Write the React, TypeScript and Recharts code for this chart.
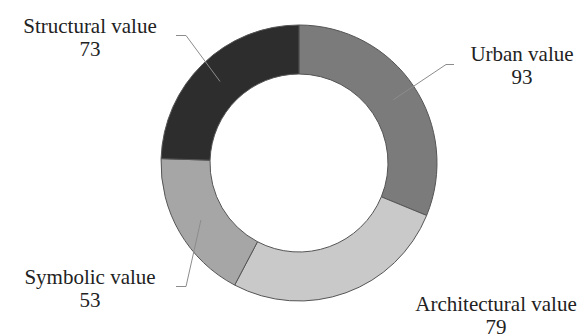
import { PieChart, Pie, Cell } from "recharts";

const categories = ["Urban value", "Architectural value", "Symbolic value", "Structural value"];
const values = [93, 79, 53, 73];
const colors = ["#7b7b7b", "#c9c9c9", "#a6a6a6", "#2d2d2d"];

// label placement relative to the pie centre (text anchor + optional leader elbow)
const labelPos = [
  { tx: 223, ty: -102, elbow: [147, -98.5], end: [155, -98.5] },
  { tx: 197, ty: 148, elbow: null, end: null },
  { tx: -209, ty: 121, elbow: [-113, 123.5], end: [-123, 123.5] },
  { tx: -209, ty: -130.5, elbow: [-113, -127.5], end: [-123, -127.5] },
];

const data = categories.map((name, i) => ({ name, value: values[i] }));

const RADIAN = Math.PI / 180;
const serif = "'Liberation Serif', 'Times New Roman', serif";

const renderLabel = (props: any) => {
  const { cx, cy, midAngle, innerRadius, outerRadius, index, name, value } = props;
  const pos = labelPos[index];
  const r = (innerRadius + outerRadius) / 2;
  const sx = cx + r * Math.cos(-midAngle * RADIAN);
  const sy = cy + r * Math.sin(-midAngle * RADIAN);
  return (
    <g>
      {pos.elbow && pos.end && (
        <polyline
          points={`${sx},${sy} ${cx + pos.elbow[0]},${cy + pos.elbow[1]} ${cx + pos.end[0]},${cy + pos.end[1]}`}
          fill="none"
          stroke="#8c8c8c"
          strokeWidth={1}
        />
      )}
      <text
        x={cx + pos.tx}
        y={cy + pos.ty}
        textAnchor="middle"
        fill="#222"
        style={{ fontFamily: serif, fontSize: 21 }}
      >
        <tspan x={cx + pos.tx}>{name}</tspan>
        <tspan x={cx + pos.tx} dy={23}>{value}</tspan>
      </text>
    </g>
  );
};

export default function App() {
  return (
    <div style={{ position: "absolute", left: 0, top: 0, background: "#fff", width: 582, height: 336 }}>
      <PieChart width={582} height={336}>
        <Pie
          data={data}
          dataKey="value"
          nameKey="name"
          cx={294}
          cy={158}
          innerRadius={89}
          outerRadius={138}
          startAngle={90}
          endAngle={-270}
          stroke="#555"
          strokeWidth={1}
          label={renderLabel}
          labelLine={false}
          isAnimationActive={false}
        >
          {data.map((d, i) => (
            <Cell key={d.name} fill={colors[i]} />
          ))}
        </Pie>
      </PieChart>
    </div>
  );
}
